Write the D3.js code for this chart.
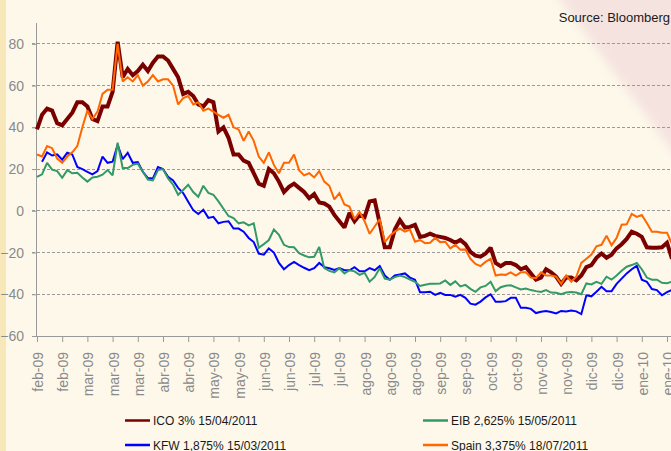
<!DOCTYPE html>
<html>
<head>
<meta charset="utf-8">
<script src="https://cdn.jsdelivr.net/npm/d3@7"></script>
<style>
  body { margin: 0; background: #fdf8ea; }
  svg { display: block; font-family: "Liberation Sans", Arial, sans-serif; }
  .tick-label { fill: #8a8a8a; font-size: 14px; }
  .legend { fill: #1a1a1a; font-size: 12px; }
</style>
</head>
<body>
<svg width="671" height="451"></svg>
<script>
// values, one point every ~half week, Feb-09 .. Jan-10
const ico = [39,46,49,48,42,41,44,47,52,52,
  50,44,43,50,50,57,81,64,68,65,
  67,70,67,71,74,74,72,68,64,56,
  57,55,51,50,53,52,38,40,35,27,
  27,24,23,18,13,12,20,18,14,9,
  11.5,13,11,9,6,8,4,3.5,2,-2,
  -5,-8,-1,-5,-2,-3,4.5,5,-6,-17.5,
  -17.5,-9,-4.5,-8,-7.7,-6.7,-12.5,-12,-11,-12,
  -12.5,-13,-14,-15.3,-14,-16,-19.7,-21.5,-22,-20.5,
  -17.7,-25,-26.5,-25,-25,-26,-28,-27,-30,-33,
  -32,-28,-29.5,-31.5,-35,-32,-32,-33.3,-31,-27,
  -26,-22.5,-20.5,-22.5,-21,-18,-16,-13.5,-10,-11,
  -12.5,-17.5,-17.7,-17.7,-17.5,-15.3,-23];

const kfw = [null,23.5,28,26.5,27,24.5,27.8,27,21,20,
  18.7,17.5,19,26,23,23.5,31.6,24.8,27.8,23,
  23.3,18.7,15.7,15.5,21,20,16.3,14.5,11,8.5,
  4.3,0.3,-1.5,0.5,-3.4,-2.9,-6,-5.3,-5,-8.5,
  -8.5,-10,-13,-15,-20.5,-21,-18,-20,-25,-28,
  -26,-24.5,-26,-27.3,-28.5,-27.5,-25,-27,-27.5,-28.3,
  -27.5,-28.5,-28.5,-27,-29,-29,-27.5,-28.5,-26.5,-31,
  -33,-31,-30.5,-30,-32,-33,-39,-39,-38.8,-40.3,
  -39.3,-40.3,-40.3,-41.2,-40.3,-41.7,-44.5,-45,-43.5,-41.5,
  -40,-43.6,-43.6,-43.3,-41.7,-41.7,-46.5,-46.5,-47,-49,
  -48.4,-48,-48.5,-49.2,-48,-48.2,-47.8,-48.2,-49.5,-40.5,
  -41,-38.8,-36.4,-38.5,-38.5,-35,-32.5,-30,-28,-26.4,
  -33,-34,-37.5,-38,-40.5,-39,-37.9];

const eib = [16.3,17.5,23,19.7,19,15.8,19.5,18,18.2,16,
  14,16,16.3,17.3,19.5,17,32.6,20.5,20.5,22,
  22.6,18.7,15,14.6,19.5,20,15.5,12.5,7.7,10,
  12.5,9,6.7,12,8.6,7.7,4.5,1,-2.5,-3.5,
  -6,-5.5,-7,-6,-17.7,-16,-14,-9,-11.5,-16.3,
  -17.4,-17.5,-20.3,-21.4,-22.3,-22,-17.3,-27.5,-28.8,-29.5,
  -27.5,-30,-28.5,-29,-30.7,-29.7,-34,-31.7,-27.5,-32.5,
  -33,-31.8,-31,-31.8,-33,-34,-36,-35.4,-35,-35,
  -34.8,-33.4,-35.5,-33.8,-36.2,-35.5,-37.4,-38.8,-36.7,-36,
  -34,-38.5,-36.6,-35.9,-35.7,-36.7,-37.7,-37.3,-38,-38.5,
  -38.9,-38,-39.2,-39.3,-40,-39.2,-38.9,-39.2,-40,-34.8,
  -35.3,-34,-35,-31.6,-33,-31,-28.7,-26.8,-26,-25,
  -28,-32,-33,-33,-34.5,-34.7,-34];

const spain = [27,26,31,30,25,23,26,28,31,40,
  48,44,47.5,56,58,58,80,62,64,62,
  65,60,62,65,62,63,63,60,51,54,
  55,51,52,48,49,47.5,46,44.6,46,40,
  39,33.5,38,33.5,26,23,28,22,18,23,
  23,27,19.5,17,18,16,19,14,12,5.5,
  8.5,3,2,-4,-0.5,-5,-11,-7.5,-4,-15,
  -12,-10,-8.5,-10,-9,-14.8,-14,-15.5,-15.3,-13,
  -15,-14.8,-18,-16.3,-18.7,-18.5,-23,-25.5,-26.5,-24.5,
  -23,-31,-30.5,-30.7,-29.5,-31,-29.5,-29.5,-32,-32.3,
  -29.5,-31,-31,-31.5,-35,-31,-34,-31.6,-25,-23,
  -21,-17,-16.3,-12,-16.5,-13,-6.7,-6.5,-1.5,-2.9,
  -2,-5.8,-10,-10,-10.5,-10.5,-16];

const xLabels = ['feb-09','feb-09','mar-09','mar-09','mar-09','abr-09','abr-09','may-09','may-09',
  'jun-09','jun-09','jul-09','jul-09','ago-09','ago-09','ago-09','sep-09','sep-09',
  'oct-09','oct-09','nov-09','nov-09','dic-09','dic-09','ene-10','ene-10'];
const yTicks = [-60,-40,-20,0,20,40,60,80];
const pointsPerTick = 5;

const series = [
  { name: 'ICO 3% 15/04/2011', values: ico, color: '#7a0000', width: 4 },
  { name: 'KFW 1,875% 15/03/2011', values: kfw, color: '#0000ff', width: 2 },
  { name: 'EIB 2,625% 15/05/2011', values: eib, color: '#339966', width: 2 },
  { name: 'Spain 3,375% 18/07/2011', values: spain, color: '#ff6600', width: 2 }
];

const svg = d3.select('svg');
const plotLeft = 37, plotRight = 667, plotTop = 23, plotBottom = 336;

// backdrop: cream page, tan strip on the left, pink wedge top right
const defs = svg.append('defs');
defs.append('filter').attr('id', 'soft')
  .attr('x', '-20%').attr('y', '-20%').attr('width', '140%').attr('height', '140%')
  .append('feGaussianBlur').attr('stdDeviation', 5);

svg.append('rect').attr('width', 671).attr('height', 451).attr('fill', '#fdf8ea');
svg.append('polygon')
  .attr('points', '538,-30 720,-30 720,215')
  .attr('fill', '#f5e3e0')
  .attr('filter', 'url(#soft)');
svg.append('rect').attr('width', 6).attr('height', 451).attr('fill', '#f8e7b9');

const xScale = d3.scaleLinear()
  .domain([0, (xLabels.length - 1) * pointsPerTick])
  .range([plotLeft, plotRight]);

const yScale = d3.scaleLinear()
  .domain([-60, 90])
  .range([plotBottom, plotTop]);

// dashed grid
svg.append('g')
  .selectAll('line')
  .data(yTicks.filter(d => d > -60))
  .enter()
  .append('line')
  .attr('x1', plotLeft - 5)
  .attr('x2', 671)
  .attr('y1', d => yScale(d))
  .attr('y2', d => yScale(d))
  .attr('stroke', '#9a9a9a')
  .attr('stroke-width', 1)
  .attr('stroke-dasharray', '3,2')
  .attr('shape-rendering', 'crispEdges');

// y axis
const yAxis = svg.append('g')
  .attr('transform', `translate(${plotLeft}, 0)`)
  .call(d3.axisLeft(yScale).tickValues(yTicks).tickSize(5).tickPadding(8));
yAxis.select('.domain')
  .attr('d', `M-0.5,${plotTop}V${plotBottom}`)
  .attr('stroke', '#9a9a9a');
yAxis.selectAll('.tick line').attr('stroke', '#9a9a9a');
yAxis.selectAll('.tick text')
  .attr('class', 'tick-label')
  .attr('fill', null)
  .style('font-family', '"Liberation Sans", Arial, sans-serif');

// x axis
const xTicks = xLabels.map((d, i) => i * pointsPerTick);
const xAxis = svg.append('g')
  .attr('transform', `translate(0, ${plotBottom})`)
  .call(d3.axisBottom(xScale).tickValues(xTicks).tickSize(6).tickFormat(''));
xAxis.select('.domain')
  .attr('d', `M${plotLeft},0.5H671`)
  .attr('stroke', '#9a9a9a');
xAxis.selectAll('.tick line').attr('stroke', '#9a9a9a');

svg.append('g')
  .selectAll('text')
  .data(xLabels)
  .enter()
  .append('text')
  .attr('class', 'tick-label')
  .attr('text-anchor', 'end')
  .attr('transform', (d, i) => `translate(${xScale(i * pointsPerTick) + 6}, 352) rotate(-90)`)
  .text(d => d);

// series
const line = d3.line()
  .defined(d => d != null)
  .x((d, i) => xScale(i))
  .y(d => yScale(d));

svg.append('g')
  .selectAll('path')
  .data(series)
  .enter()
  .append('path')
  .attr('fill', 'none')
  .attr('stroke', d => d.color)
  .attr('stroke-width', d => d.width)
  .attr('stroke-linejoin', 'miter')
  .attr('stroke-miterlimit', 2)
  .attr('d', d => line(d.values));

// legend, two columns
const legendPos = [[125, 420.5], [423, 420.5], [125, 445], [423, 445]];
const legendOrder = [0, 2, 1, 3];
const legend = svg.append('g')
  .selectAll('g')
  .data(legendOrder.map(i => series[i]))
  .enter()
  .append('g')
  .attr('transform', (d, i) => `translate(${legendPos[i][0]}, ${legendPos[i][1]})`);

legend.append('line')
  .attr('x1', 0).attr('x2', 25)
  .attr('stroke', d => d.color)
  .attr('stroke-width', 2.5);

legend.append('text')
  .attr('class', 'legend')
  .attr('x', 28)
  .attr('y', 4.5)
  .text(d => d.name);

svg.append('text')
  .attr('x', 670)
  .attr('y', 22)
  .attr('text-anchor', 'end')
  .attr('fill', '#1a1a1a')
  .style('font-size', '13px')
  .text('Source: Bloomberg');
</script>
</body>
</html>
